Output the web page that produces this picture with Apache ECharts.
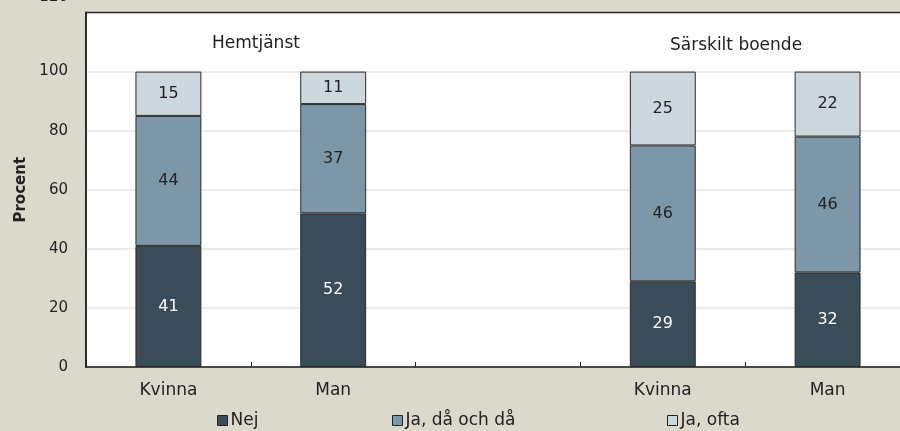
<!DOCTYPE html>
<html><head><meta charset="utf-8">
<script src="https://cdn.jsdelivr.net/npm/echarts@6/dist/echarts.min.js"></script>
<style>html,body{margin:0;padding:0;background:#dbd8cc}#c{width:900px;height:431px}</style>
</head><body><div id="c"></div>
<script>
const categories = ['Kvinna', 'Man', '', 'Kvinna', 'Man'];
const nej = [41, 52, null, 29, 32];
const jaDoD = [44, 37, null, 46, 46];
const jaOfta = [15, 11, null, 25, 22];
const yTicks = [0, 20, 40, 60, 80, 100, 120];
const groupLabels = ['Hemtjänst', 'Särskilt boende'];
const seriesNames = ['Nej', 'Ja, då och då', 'Ja, ofta'];

const FONT = 'DejaVu Sans';
const chart = echarts.init(document.getElementById('c'));
function bar(name, data, color, labelColor) {
  return {
    name, type: 'bar', stack: 's', data, barWidth: '40%',
    itemStyle: { color, borderColor: '#2a2a2a', borderWidth: 1 },
    label: { show: true, position: 'inside', color: labelColor, fontFamily: FONT, fontSize: 16 },
    emphasis: { disabled: true }
  };
}
const legendLefts = [217, 392, 667];
chart.setOption({
  animation: false,
  backgroundColor: '#dbd8cc',
  textStyle: { fontFamily: FONT },
  grid: { left: 86, top: 12.5, right: -10, bottom: 64, outerBoundsMode: 'none', containLabel: false,
          show: true, backgroundColor: '#ffffff', borderColor: '#222', borderWidth: 1.5 },
  legend: seriesNames.map((n, i) => ({
    bottom: 2, left: legendLefts[i], padding: 0, itemWidth: 10, itemHeight: 10, itemGap: 4,
    icon: 'rect', textStyle: { fontFamily: FONT, fontSize: 17, color: '#222', padding: [0, 0, 0, -2] },
    data: [{ name: n, itemStyle: { borderColor: '#222', borderWidth: 1 } }]
  })),
  xAxis: {
    type: 'category', data: categories, boundaryGap: true,
    axisLine: { lineStyle: { color: '#222', width: 1.5 } },
    axisTick: { show: true, inside: true, length: 5, lineStyle: { color: '#222' } },
    axisLabel: { color: '#222', fontSize: 17, fontFamily: FONT, margin: 15 }
  },
  yAxis: {
    type: 'value', min: yTicks[0], max: yTicks[yTicks.length - 1], interval: 20,
    name: 'Procent', nameLocation: 'middle', nameGap: 56,
    nameTextStyle: { fontWeight: 'bold', fontSize: 15, color: '#222', fontFamily: FONT },
    axisLine: { show: true, lineStyle: { color: '#222', width: 1.5 } },
    axisTick: { show: false },
    splitLine: { showMaxLine: false, lineStyle: { color: '#e6e4dc', width: 1.5 } },
    axisLabel: {
      color: '#222', fontSize: 15, fontFamily: FONT, margin: 18,
      formatter: v => v === 120 ? '{c|120}' : String(v),
      rich: { c: { padding: [0, 0, 30, 0], fontSize: 15, color: '#222', fontFamily: FONT } }
    }
  },
  graphic: [
    { type: 'text', left: 212, top: 35, style: { text: groupLabels[0], fontFamily: FONT, fontSize: 17, fill: '#222' } },
    { type: 'text', left: 670, top: 37, style: { text: groupLabels[1], fontFamily: FONT, fontSize: 17, fill: '#222' } }
  ],
  series: [
    bar(seriesNames[0], nej, '#3a4c58', '#ffffff'),
    bar(seriesNames[1], jaDoD, '#7c97a7', '#222'),
    bar(seriesNames[2], jaOfta, '#cdd7de', '#222')
  ]
});
</script></body></html>
